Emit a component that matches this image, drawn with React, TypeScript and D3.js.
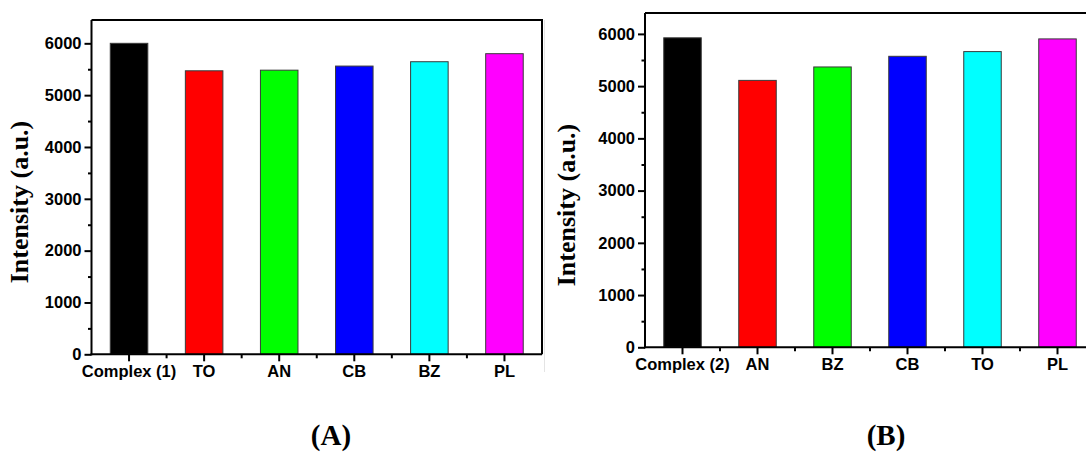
import React, { useEffect, useRef } from "react";
import * as d3 from "d3";

// Panel (A)
const categoriesA = ["Complex (1)", "TO", "AN", "CB", "BZ", "PL"];
const valuesA = [6000, 5470, 5482, 5561, 5645, 5800];
const yMaxA = 6450;

// Panel (B)
const categoriesB = ["Complex (2)", "AN", "BZ", "CB", "TO", "PL"];
const valuesB = [5925, 5110, 5367, 5571, 5661, 5904];
const yMaxB = 6400;

const barColors = ["#000000", "#ff0000", "#00ff00", "#0000ff", "#00ffff", "#ff00ff"];
const yTicks = [0, 1000, 2000, 3000, 4000, 5000, 6000];
const yMinorTicks = [500, 1500, 2500, 3500, 4500, 5500];
const panelLabels = ["(A)", "(B)"];
const yTitle = "Intensity (a.u.)";

const W = 1086;
const H = 452;

type Panel = {
  cats: string[];
  vals: number[];
  yMax: number;
  left: number;
  right: number;
  top: number;
  bottom: number;
  titleX: number;
  titleY: number;
  labelX: number;
};

const panels: Panel[] = [
  { cats: categoriesA, vals: valuesA, yMax: yMaxA, left: 91.5, right: 542, top: 20, bottom: 354.3, titleX: 28, titleY: 202, labelX: 331 },
  { cats: categoriesB, vals: valuesB, yMax: yMaxB, left: 645, right: 1095, top: 13, bottom: 347.3, titleX: 575, titleY: 205, labelX: 886 },
];

export default function App() {
  const ref = useRef<SVGSVGElement>(null);

  useEffect(() => {
    const svg = d3.select(ref.current);
    svg.selectAll("*").remove();

    // faint scan border between the two panels
    svg.append("line")
      .attr("x1", 544.5).attr("x2", 544.5)
      .attr("y1", 20).attr("y2", 372)
      .attr("stroke", "#e4e4e4").attr("stroke-width", 1);

    panels.forEach((p, pi) => {
      const g = svg.append("g");
      const x = d3.scaleBand<string>()
        .domain(p.cats)
        .range([p.left, p.right])
        .paddingInner(0.5)
        .paddingOuter(0.25);
      const y = d3.scaleLinear().domain([0, p.yMax]).range([p.bottom, p.top]);

      // bars
      g.selectAll("rect.bar")
        .data(p.vals)
        .enter()
        .append("rect")
        .attr("class", "bar")
        .attr("x", (_, i) => x(p.cats[i])!)
        .attr("width", x.bandwidth())
        .attr("y", (d) => y(d))
        .attr("height", (d) => p.bottom - y(d))
        .attr("fill", (_, i) => barColors[i])
        .attr("stroke", "#3a3a3a")
        .attr("stroke-width", 1);

      // frame (top and right sides)
      g.append("path")
        .attr("d", `M${p.left},${p.top}H${p.right}V${p.bottom}`)
        .attr("fill", "none")
        .attr("stroke", "#000")
        .attr("stroke-width", 2);

      // y axis
      const yAxis = d3.axisLeft(y).tickValues(yTicks).tickSize(7).tickPadding(3).tickFormat(d3.format("d"));
      const ya = g.append("g").attr("transform", `translate(${p.left},0)`).call(yAxis);
      ya.select(".domain").attr("stroke-width", 2).attr("d", `M0,${p.top}V${p.bottom + 1}`);
      ya.selectAll(".tick line").attr("stroke-width", 2);
      ya.selectAll("text")
        .attr("font-family", "'Liberation Sans', Arial, sans-serif")
        .attr("font-weight", "bold")
        .attr("font-size", 16.5)
        .attr("fill", "#000");
      const yMinor = d3.axisLeft(y).tickValues(yMinorTicks).tickSize(3.5).tickFormat(() => "");
      const ym = g.append("g").attr("transform", `translate(${p.left},0)`).call(yMinor);
      ym.select(".domain").remove();
      ym.selectAll(".tick line").attr("stroke-width", 2);

      // x axis
      const xAxis = d3.axisBottom(x).tickSize(7).tickPadding(4);
      const xa = g.append("g").attr("transform", `translate(0,${p.bottom})`).call(xAxis);
      xa.select(".domain").attr("stroke-width", 2).attr("d", `M${p.left - 1},0H${p.right}`);
      xa.selectAll(".tick line").attr("stroke-width", 2);
      xa.selectAll("text")
        .attr("font-family", "'Liberation Sans', Arial, sans-serif")
        .attr("font-weight", "bold")
        .attr("font-size", 16.5)
        .attr("fill", "#000");
      // minor ticks halfway between categories
      const step = x.step();
      const minorX = p.cats.slice(0, -1).map((c) => x(c)! + x.bandwidth() / 2 + step / 2);
      g.selectAll("line.xminor")
        .data(minorX)
        .enter()
        .append("line")
        .attr("class", "xminor")
        .attr("x1", (d) => d).attr("x2", (d) => d)
        .attr("y1", p.bottom).attr("y2", p.bottom + 4)
        .attr("stroke", "#000").attr("stroke-width", 2);

      // y title
      g.append("text")
        .attr("transform", `translate(${p.titleX},${p.titleY}) rotate(-90)`)
        .attr("text-anchor", "middle")
        .attr("font-family", "'Liberation Serif', 'Times New Roman', serif")
        .attr("font-weight", "bold")
        .attr("font-size", 26)
        .attr("fill", "#000")
        .text(yTitle);

      // panel label
      g.append("text")
        .attr("x", p.labelX)
        .attr("y", 445)
        .attr("text-anchor", "middle")
        .attr("font-family", "'Liberation Serif', 'Times New Roman', serif")
        .attr("font-weight", "bold")
        .attr("font-size", 29)
        .attr("fill", "#000")
        .text(panelLabels[pi]);
    });
  }, []);

  return (
    <svg
      ref={ref}
      width={W}
      height={H}
      style={{ position: "absolute", left: 0, top: 0, background: "#fff", overflow: "hidden" }}
    />
  );
}
